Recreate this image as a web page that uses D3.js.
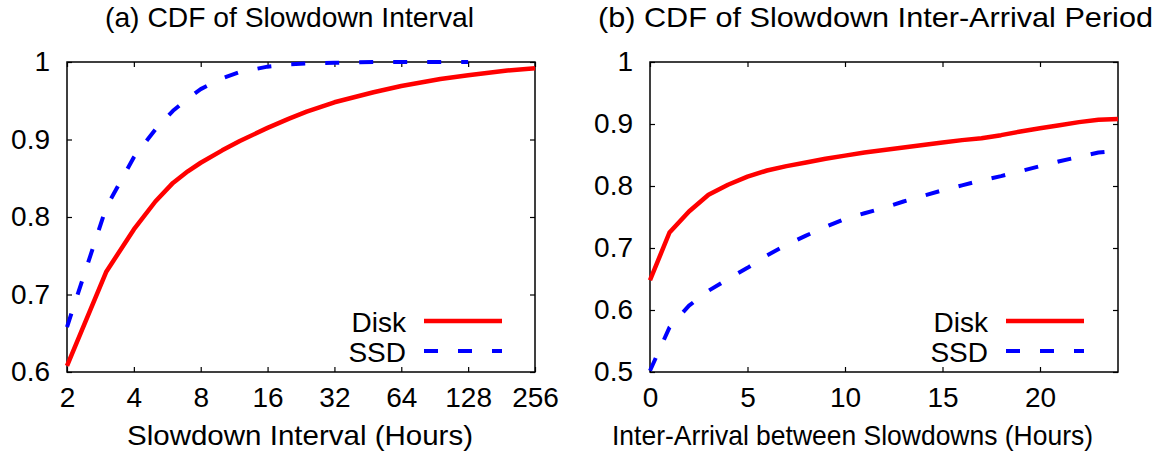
<!DOCTYPE html>
<html>
<head>
<meta charset="utf-8">
<script src="https://cdn.jsdelivr.net/npm/d3@7"></script>
<style>
	html, body { margin: 0; padding: 0; background: #fff; }
	svg text { font-family: "Liberation Sans", Arial, Helvetica, sans-serif; font-size: 28px; fill: #000; }
</style>
</head>
<body>
<svg id="chart" width="1161" height="454"></svg>
<script>
// (a) slowdown interval, hours on a log2 axis
var intervalHours = [2, 3, 4, 5, 6, 7, 8, 10, 12, 16, 20, 24, 32, 48, 64, 96, 128, 192, 256];
var intervalDisk = [0.608, 0.729, 0.784, 0.820, 0.844, 0.859, 0.870, 0.886, 0.898, 0.915, 0.927, 0.936, 0.948, 0.961, 0.969, 0.978, 0.983, 0.989, 0.992];
// ssd reaches 1 and stops at 128 hours
var intervalSsd = [0.658, 0.812, 0.877, 0.913, 0.937, 0.953, 0.965, 0.979, 0.987, 0.994, 0.997, 0.998, 0.999, 1.0, 1.0, 1.0, 1.0, null, null];
var intervalTicks = [2, 4, 8, 16, 32, 64, 128, 256];
var intervalYTicks = [0.6, 0.7, 0.8, 0.9, 1];

// (b) inter-arrival period, hourly
var arrivalHours = [0, 1, 2, 3, 4, 5, 6, 7, 8, 9, 10, 11, 12, 13, 14, 15, 16, 17, 18, 19, 20, 21, 22, 23, 24];
var arrivalDisk = [0.648, 0.725, 0.759, 0.786, 0.802, 0.815, 0.825, 0.832, 0.838, 0.844, 0.849, 0.854, 0.858, 0.862, 0.866, 0.870, 0.874, 0.877, 0.882, 0.888, 0.893, 0.898, 0.903, 0.907, 0.908];
var arrivalSsd = [0.502, 0.572, 0.607, 0.631, 0.650, 0.668, 0.688, 0.705, 0.720, 0.734, 0.747, 0.756, 0.765, 0.775, 0.784, 0.793, 0.801, 0.809, 0.816, 0.824, 0.832, 0.840, 0.847, 0.854, 0.857];
var arrivalTicks = [0, 5, 10, 15, 20];
var arrivalYTicks = [0.5, 0.6, 0.7, 0.8, 0.9, 1];

var seriesNames = ["Disk", "SSD"];

var svg = d3.select("#chart");

var styles = {
	Disk: { color: "#ff0000", width: 4.5, dash: null },
	SSD: { color: "#0000ff", width: 4, dash: "14,20" }
};

function fmt(v) {
	return v == 1 ? "1" : d3.format(".1f")(v);
}

// text stretched between two x positions, like the original
function spanText(g, text, x0, x1, y) {
	return g.append("text")
		.attr("x", x0)
		.attr("y", y)
		.attr("textLength", x1 - x0)
		.attr("lengthAdjust", "spacingAndGlyphs")
		.text(text);
}

function drawPanel(opts) {
	var g = svg.append("g");
	var x = opts.x, y = opts.y;
	var left = x.range()[0], right = x.range()[1];
	var bottom = y.range()[0], top = y.range()[1];

	// the box
	g.append("rect")
		.attr("x", left)
		.attr("y", top)
		.attr("width", right - left)
		.attr("height", bottom - top)
		.attr("fill", "none")
		.attr("stroke", "#000")
		.attr("stroke-width", 1.5);

	// ticks point inwards, mirrored on top and right
	var axes = [
		{ axis: d3.axisBottom(x).tickValues(opts.xTicks).tickFormat(opts.xFormat).tickSize(-5).tickPadding(15), at: [0, bottom], labels: true },
		{ axis: d3.axisTop(x).tickValues(opts.xTicks).tickSize(-5), at: [0, top], labels: false },
		{ axis: d3.axisLeft(y).tickValues(opts.yTicks).tickFormat(fmt).tickSize(-5).tickPadding(17), at: [left, 0], labels: true },
		{ axis: d3.axisRight(y).tickValues(opts.yTicks).tickSize(-5), at: [right, 0], labels: false }
	];
	axes.forEach(function(a) {
		var ag = g.append("g")
			.attr("transform", "translate(" + a.at[0] + "," + a.at[1] + ")")
			.call(a.axis.tickSizeOuter(0));
		ag.select(".domain").remove();
		ag.selectAll(".tick line").attr("stroke", "#000").attr("stroke-width", 1.2);
		ag.selectAll(".tick text")
			.attr("font-size", null)
			.attr("font-family", null)
			.attr("fill", "#000");
		if (!a.labels) {
			ag.selectAll(".tick text").remove();
		}
	});

	// titles
	spanText(g, opts.title, opts.titleSpan[0], opts.titleSpan[1], 27);
	spanText(g, opts.xLabel, opts.labelSpan[0], opts.labelSpan[1], 445);

	// curves
	seriesNames.forEach(function(name, i) {
		var values = opts.series[i];
		var line = d3.line()
			.defined(function(d, j) { return values[j] != null; })
			.x(function(d) { return x(d); })
			.y(function(d, j) { return y(values[j]); });
		g.append("path")
			.datum(opts.xs)
			.attr("d", line)
			.attr("fill", "none")
			.attr("stroke", styles[name].color)
			.attr("stroke-width", styles[name].width)
			.attr("stroke-dasharray", styles[name].dash)
			.attr("stroke-linejoin", "round");
	});

	// legend, bottom right
	seriesNames.forEach(function(name, i) {
		var ly = 321 + i * 30;
		g.append("text")
			.attr("x", opts.legendX)
			.attr("y", ly + 10.5)
			.attr("text-anchor", "end")
			.text(name);
		g.append("line")
			.attr("x1", opts.legendX + 18)
			.attr("x2", opts.legendX + 96)
			.attr("y1", ly)
			.attr("y2", ly)
			.attr("stroke", styles[name].color)
			.attr("stroke-width", styles[name].width)
			.attr("stroke-dasharray", styles[name].dash);
	});
}

drawPanel({
	x: d3.scaleLog().base(2).domain([2, 256]).range([67, 535]),
	y: d3.scaleLinear().domain([0.6, 1]).range([372, 62]),
	xTicks: intervalTicks,
	yTicks: intervalYTicks,
	xFormat: d3.format("d"),
	xs: intervalHours,
	series: [intervalDisk, intervalSsd],
	title: "(a) CDF of Slowdown Interval",
	titleSpan: [105, 474],
	xLabel: "Slowdown Interval (Hours)",
	labelSpan: [127, 473],
	legendX: 406
});

drawPanel({
	x: d3.scaleLinear().domain([0, 24]).range([650, 1118]),
	y: d3.scaleLinear().domain([0.5, 1]).range([372, 62]),
	xTicks: arrivalTicks,
	yTicks: arrivalYTicks,
	xFormat: d3.format("d"),
	xs: arrivalHours,
	series: [arrivalDisk, arrivalSsd],
	title: "(b) CDF of Slowdown Inter-Arrival Period",
	titleSpan: [598, 1153],
	xLabel: "Inter-Arrival between Slowdowns (Hours)",
	labelSpan: [612, 1093],
	legendX: 988
});
</script>
</body>
</html>
